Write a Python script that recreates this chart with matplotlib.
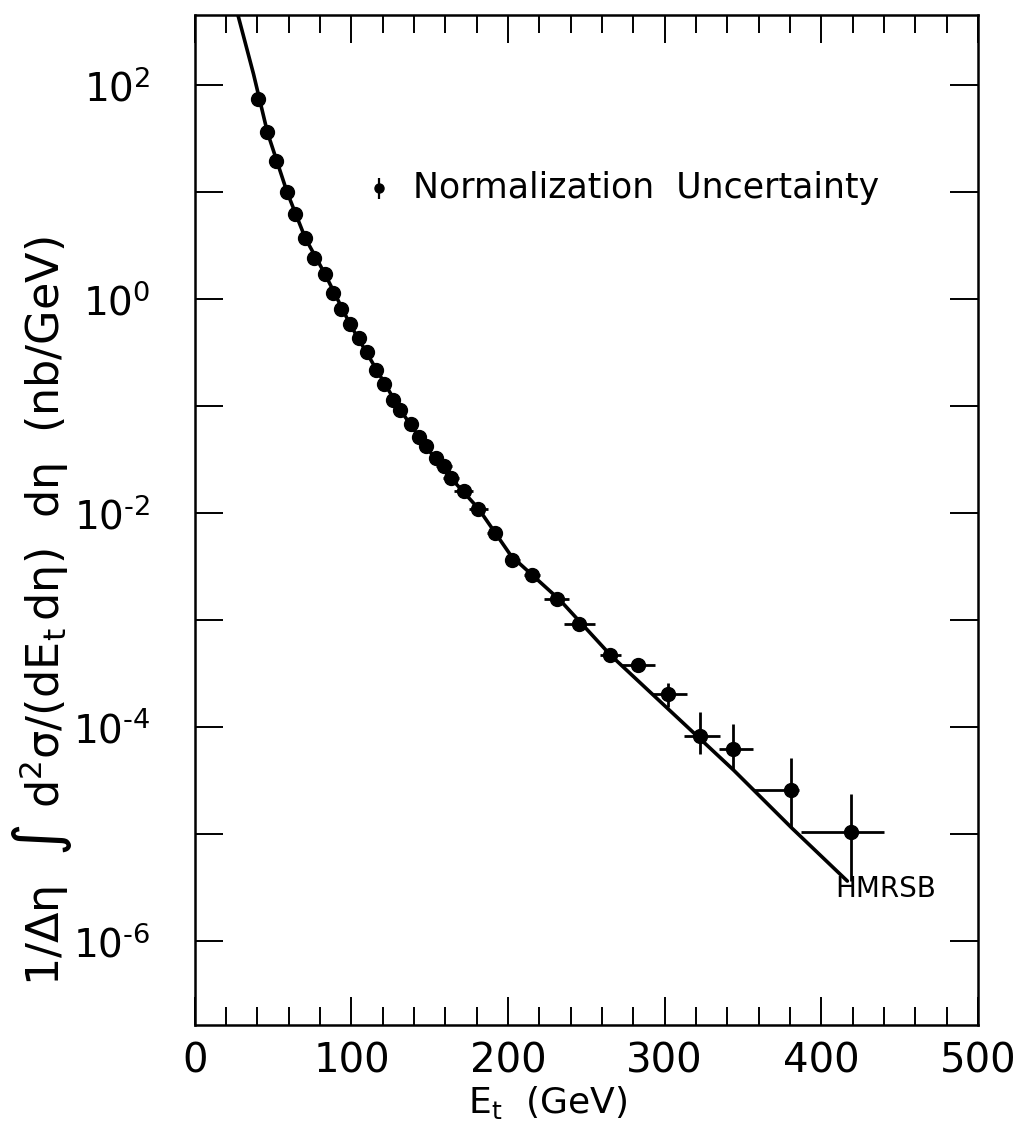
import numpy as np
import matplotlib
matplotlib.use("Agg")
from matplotlib import pyplot as plt
from matplotlib.ticker import FixedLocator, MultipleLocator, NullLocator, FuncFormatter

plt.rcParams['mathtext.default'] = 'regular'
plt.rcParams['font.family'] = ['DejaVu Sans']

# measured points (E_t in GeV, cross section in nb/GeV)
et = [40.2, 46.4, 52.0, 58.9, 64.3, 70.6, 76.4, 83.2, 88.3, 93.4, 99.1, 104.7,
      110.2, 116.0, 121.1, 126.8, 131.3, 138.1, 143.3, 147.4, 153.7, 158.9,
      163.4, 171.8, 181.1, 191.4, 202.8, 215.3, 231.0, 245.5, 265.4, 282.7,
      302.1, 322.5, 343.6, 380.9, 418.7]
xsec = [75, 36.4, 19.7, 10.1, 6.3, 3.73, 2.42, 1.72, 1.16, 0.815, 0.587, 0.438,
        0.321, 0.221, 0.163, 0.116, 0.0923, 0.0679, 0.0515, 0.0424, 0.0328, 0.0277,
        0.0215, 0.0163, 0.0111, 0.00659, 0.0037, 0.00263, 0.00158, 9.16e-4, 4.74e-4, 3.83e-4,
        2.03e-4, 8.36e-5, 6.34e-5, 2.61e-5, 1.05e-5]

# bin half widths (left / right)
et_err_lo = [0] * 21 + [5, 5, 6, 6, 5, 5, 5, 8, 10, 7, 10, 10, 10, 9, 24, 32]
et_err_hi = [0] * 21 + [5, 5, 6, 6, 5, 5, 5, 8, 10, 7, 11, 12, 13, 13, 5, 21]

# statistical errors
xsec_err_lo = [0] * 32 + [4.9e-5, 2.68e-5, 2.36e-5, 1.43e-5, 6.84e-6]
xsec_err_hi = [0] * 32 + [5.8e-5, 5.54e-5, 4.36e-5, 2.6e-5, 1.31e-5]

# HMRSB prediction
th_et = [27.6, 37.5, 46.4, 58.9, 70.6, 83.2, 99.1, 116.0, 131.3, 147.4, 163.4,
         181.1, 202.0, 233.1, 265.4, 344.1, 381.3, 416.6]
th_xsec = [453, 128, 36.4, 10.1, 3.73, 1.72, 0.587, 0.221, 0.0923, 0.0424, 0.0215,
           0.0111, 0.0040, 0.00155, 4.74e-4, 3.97e-5, 1.14e-5, 3.66e-6]

# normalization uncertainty marker
norm_et = 117.8
norm_val = 11.0
norm_err = [2.3, 2.8]

fig = plt.figure(figsize=(10.36, 11.45), dpi=100)
ax = fig.add_axes([0.188, 0.105, 0.756, 0.882])

ax.plot(th_et, th_xsec, color='black', lw=2.6, solid_capstyle='round')
ax.errorbar(et, xsec, xerr=[et_err_lo, et_err_hi], yerr=[xsec_err_lo, xsec_err_hi],
            fmt='o', color='black', ms=10, elinewidth=2.0, capsize=0)

ax.errorbar([norm_et], [norm_val], yerr=[[norm_err[0]], [norm_err[1]]],
            fmt='o', color='black', ms=6.5, elinewidth=1.6, capsize=0)
ax.text(139, norm_val, 'Normalization  Uncertainty', fontsize=25,
        ha='left', va='center')
ax.text(441, 3.1e-6, 'HMRSB', fontsize=20, ha='center', va='center')

ax.set_yscale('log')
ax.set_xlim(0, 500)
ax.set_ylim(10 ** -6.78, 10 ** 2.66)

ax.xaxis.set_major_locator(MultipleLocator(100))
ax.xaxis.set_minor_locator(MultipleLocator(20))
ax.yaxis.set_major_locator(FixedLocator([10.0 ** k for k in range(-6, 3)]))
ax.yaxis.set_minor_locator(NullLocator())


def ylab(v, pos):
    k = int(round(np.log10(v)))
    if k % 2:
        return ''
    # short hyphen instead of the wide minus sign
    exp = str(k) if k >= 0 else '\u2010' + str(-k)
    return r'$10^{%s}$' % exp


ax.yaxis.set_major_formatter(FuncFormatter(ylab))

ax.tick_params(which='both', direction='in', top=True, right=True, width=1.4)
ax.tick_params(axis='x', which='major', length=20, labelsize=29, pad=12)
ax.tick_params(axis='x', which='minor', length=13)
ax.tick_params(axis='y', which='major', length=20, labelsize=28, pad=32)

for s in ax.spines.values():
    s.set_linewidth(1.8)

ax.set_xlabel(r'$E_t$  (GeV)', fontsize=26)
ax.xaxis.set_label_coords(0.451, -0.059)
ax.set_ylabel(r'$1/\Delta\eta\ \ \int\ d^2\sigma/(dE_t\,d\eta)\ \ d\eta$  (nb/GeV)',
              fontsize=32)
ax.yaxis.set_label_coords(-0.154, 0.41)

fig.savefig('out.png', dpi=100)
